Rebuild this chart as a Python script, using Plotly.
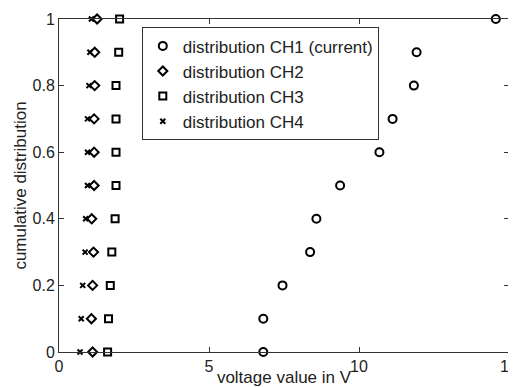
import plotly.graph_objects as go

y_levels = [0, 0.1, 0.2, 0.3, 0.4, 0.5, 0.6, 0.7, 0.8, 0.9, 1.0]
ch1 = [6.81, 6.81, 7.45, 8.37, 8.58, 9.37, 10.68, 11.12, 11.83, 11.92, 14.56]
ch2 = [1.12, 1.08, 1.12, 1.15, 1.09, 1.17, 1.17, 1.17, 1.19, 1.19, 1.27]
ch3 = [1.62, 1.65, 1.71, 1.76, 1.87, 1.90, 1.90, 1.90, 1.90, 1.99, 2.02]
ch4 = [0.70, 0.74, 0.79, 0.87, 0.89, 0.95, 0.95, 0.95, 1.00, 1.03, 1.08]

names = ["distribution CH1 (current)", "distribution CH2", "distribution CH3", "distribution CH4"]
symbols = ["circle-open", "diamond-open", "square-open", "x-thin-open"]
sizes = [8, 7, 7, 5]

fig = go.Figure()
for xs, nm, sym, sz in zip([ch1, ch2, ch3, ch4], names, symbols, sizes):
    fig.add_trace(go.Scatter(
        x=xs, y=y_levels, mode="markers", name=nm, cliponaxis=False,
        marker=dict(symbol=sym, size=sz, color="black",
                    line=dict(width=2, color="black")),
    ))

axis_common = dict(showline=True, linecolor="#333", linewidth=1, mirror="ticks",
                   ticks="inside", ticklen=5, tickcolor="#333", showgrid=False,
                   zeroline=False, automargin=False, ticklabeloverflow="allow",
                   tickfont=dict(size=16, color="#222"))

# page body has an 8px default margin, so the figure is sized to fit the 516x387 window
fig.update_layout(
    width=508, height=379,
    margin=dict(l=51, r=7, t=11, b=35),
    paper_bgcolor="white", plot_bgcolor="white",
    font=dict(family="Liberation Sans, Arial, sans-serif", color="#222"),
    xaxis=dict(range=[0, 15], tickvals=[0, 5, 10, 15],
               title=dict(text="voltage value in V", font=dict(size=17), standoff=8),
               **axis_common),
    yaxis=dict(range=[0, 1], tickvals=[0, 0.2, 0.4, 0.6, 0.8, 1],
               ticktext=["0", "0.2", "0.4", "0.6", "0.8", "1"],
               title=dict(text="cumulative distribution", font=dict(size=17), standoff=1),
               **axis_common),
    legend=dict(x=0.184, y=0.975, xanchor="left", yanchor="top",
                bordercolor="#333", borderwidth=1, bgcolor="white",
                font=dict(size=17, color="#222"), tracegroupgap=0,
                itemwidth=30),
    showlegend=True,
)

fig.write_html("out.html")
